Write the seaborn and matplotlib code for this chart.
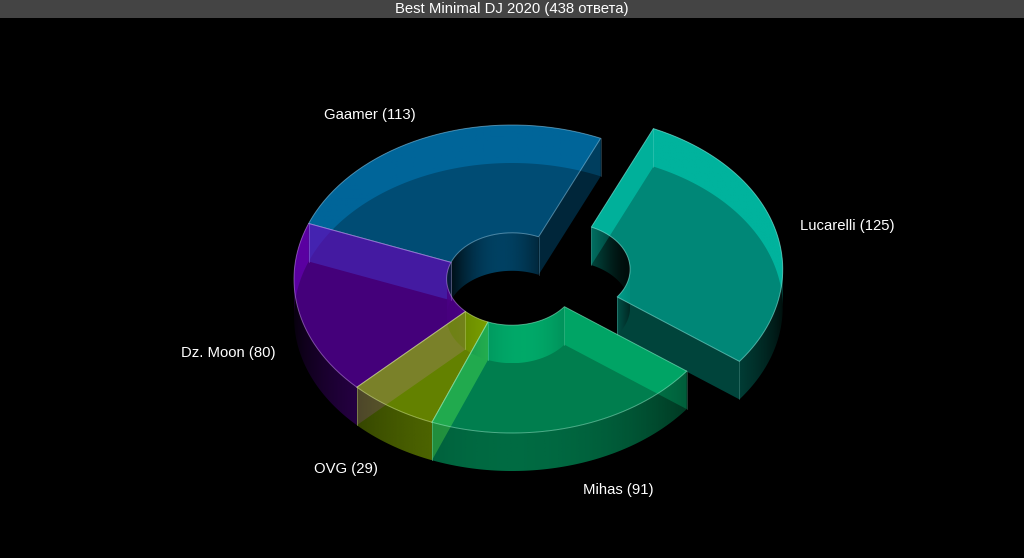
import numpy as np
import matplotlib
matplotlib.use("Agg")
import matplotlib.pyplot as plt
import seaborn as sns
from matplotlib.colors import to_rgb
from matplotlib.patches import Polygon

names = ["Lucarelli", "Mihas", "OVG", "Dz. Moon", "Gaamer"]
votes = [125, 91, 29, 80, 113]
slice_colors = ["#00E3C7", "#00D383", "#A6D900", "#7300CC", "#0080C2"]
exploded = [0.25, 0, 0, 0, 0]
title = "Best Minimal DJ 2020 (438 ответа)"

label_x = [847, 618, 346, 228, 370]
label_y = [226, 490, 469, 353, 115]

# projection of the ring onto the picture, looks like 45 deg from above
CX, CY = 512, 279
RX, RY = 218, 154
HOLE = 0.3
DEPTH = 38
START = 24
ALPHA = 0.6


def pt(theta, r, z, off=0.0, mid=0.0):
    t = np.radians(theta)
    m = np.radians(mid)
    x = CX + RX * (r * np.sin(t) + off * np.sin(m))
    y = CY - RY * (r * np.cos(t) + off * np.cos(m)) + z * DEPTH
    return x, y


def wall_shade(theta, r, front):
    if r == HOLE:
        return 0.1 + 0.75 * abs(np.cos(np.radians(theta + 10))) ** 3
    if not front:
        return 0.8
    return 0.1 + 0.75 * abs(np.cos(np.radians(theta))) ** 1.5


def curved_wall(ax, color, a0, a1, r, off, mid, front):
    # one gradient image per wall piece, clipped to the shape of the piece
    angles = np.linspace(a0, a1, 361)
    facing = np.cos(np.radians(angles)) < 0
    if r == HOLE:
        facing = ~facing
    angles = angles[facing == front]
    if len(angles) < 2:
        return
    x_top = np.array([pt(t, r, 0, off, mid)[0] for t in angles])
    order = np.argsort(x_top)
    grid = np.linspace(x_top.min(), x_top.max(), 300)
    shades = np.interp(grid, x_top[order], [wall_shade(angles[k], r, front) for k in order])
    img = np.zeros((1, 300, 4))
    img[0, :, :3] = np.outer(shades, color)
    img[0, :, 3] = ALPHA

    upper = [pt(t, r, 0, off, mid) for t in angles]
    lower = [pt(t, r, 1, off, mid) for t in angles[::-1]]
    outline = Polygon(upper + lower, closed=True, transform=ax.transData, facecolor="none",
                      edgecolor="none")
    ax.add_patch(outline)
    ys = [p[1] for p in upper + lower]
    im = ax.imshow(img, extent=(grid[0], grid[-1], max(ys), min(ys)), aspect="auto",
                   interpolation="bilinear", zorder=ax.zorder_now)
    ax.zorder_now += 1
    im.set_clip_path(outline)


def cut_wall(ax, color, theta, normal, off, mid, attached):
    faces_front = np.cos(np.radians(normal)) < 0
    # between two joined slices only the cut of the earlier drawn one shows
    if attached and not faces_front:
        return
    if faces_front:
        k = 0.85 if attached else 0.5
    else:
        k = 0.75
    poly = [pt(theta, HOLE, 0, off, mid), pt(theta, 1, 0, off, mid),
            pt(theta, 1, 1, off, mid), pt(theta, HOLE, 1, off, mid)]
    ax.add_patch(Polygon(poly, closed=True, facecolor=np.array(color) * k,
                         edgecolor="none", alpha=ALPHA, zorder=ax.zorder_now))
    ax.zorder_now += 1


def draw_slice(ax, color, a0, a1, off, joined0, joined1):
    mid = (a0 + a1) / 2
    # back to front: far walls, cuts, hole, near wall, then the top face
    curved_wall(ax, color, a0, a1, 1, off, mid, False)
    cut_wall(ax, color, a0, a0 - 90, off, mid, joined0)
    cut_wall(ax, color, a1, a1 + 90, off, mid, joined1)
    curved_wall(ax, color, a0, a1, HOLE, off, mid, False)
    curved_wall(ax, color, a0, a1, HOLE, off, mid, True)
    curved_wall(ax, color, a0, a1, 1, off, mid, True)

    arc = np.linspace(a0, a1, 120)
    outer = [pt(t, 1, 0, off, mid) for t in arc]
    inner = [pt(t, HOLE, 0, off, mid) for t in arc[::-1]]
    top = outer + inner
    ax.add_patch(Polygon(top, closed=True, facecolor=color, edgecolor="none", alpha=ALPHA,
                         zorder=ax.zorder_now))
    ax.zorder_now += 1

    edge = tuple(0.45 * np.array(color) + 0.55)
    xs, ys = zip(*(top + top[:1]))
    ax.plot(xs, ys, color=edge, lw=0.7, alpha=0.55, zorder=ax.zorder_now)

    # thin edges on the corners
    for t, r in [(a0, 1), (a1, 1), (a0, HOLE), (a1, HOLE)]:
        p0, p1 = pt(t, r, 0, off, mid), pt(t, r, 1, off, mid)
        ax.plot([p0[0], p1[0]], [p0[1], p1[1]], color=edge, lw=0.6, alpha=0.3,
                zorder=ax.zorder_now)
    ax.zorder_now += 1


def main():
    sns.set_theme(style="dark", rc={"axes.facecolor": "black", "figure.facecolor": "black"})
    plt.rcParams["font.family"] = ["Liberation Sans", "DejaVu Sans"]
    palette = [to_rgb(c) for c in sns.color_palette(slice_colors)]

    fig = plt.figure(figsize=(10.24, 5.58), dpi=100)
    ax = fig.add_axes([0, 0, 1, 1])
    ax.axis("off")
    ax.zorder_now = 1

    sweep = np.array(votes) / sum(votes) * 360
    starts = START + np.concatenate([[0], np.cumsum(sweep)[:-1]])
    n = len(votes)

    # far slices first
    for i in [4, 3, 0, 2, 1]:
        joined0 = exploded[i] == 0 and exploded[(i - 1) % n] == 0
        joined1 = exploded[i] == 0 and exploded[(i + 1) % n] == 0
        draw_slice(ax, palette[i], starts[i], starts[i] + sweep[i], exploded[i], joined0, joined1)

    for name, v, x, y in zip(names, votes, label_x, label_y):
        ax.text(x, y, f"{name} ({v})", color="white", fontsize=10.75, ha="center", va="center",
                zorder=500)

    ax.axhspan(0, 18, color="#444444", lw=0, zorder=499)
    ax.text(512, 9, title, color="white", fontsize=10.75, ha="center", va="center", zorder=500)

    # imshow moves the limits, so set them last
    ax.set_xlim(0, 1024)
    ax.set_ylim(558, 0)
    fig.savefig("out.png", dpi=100, facecolor="black")


main()
